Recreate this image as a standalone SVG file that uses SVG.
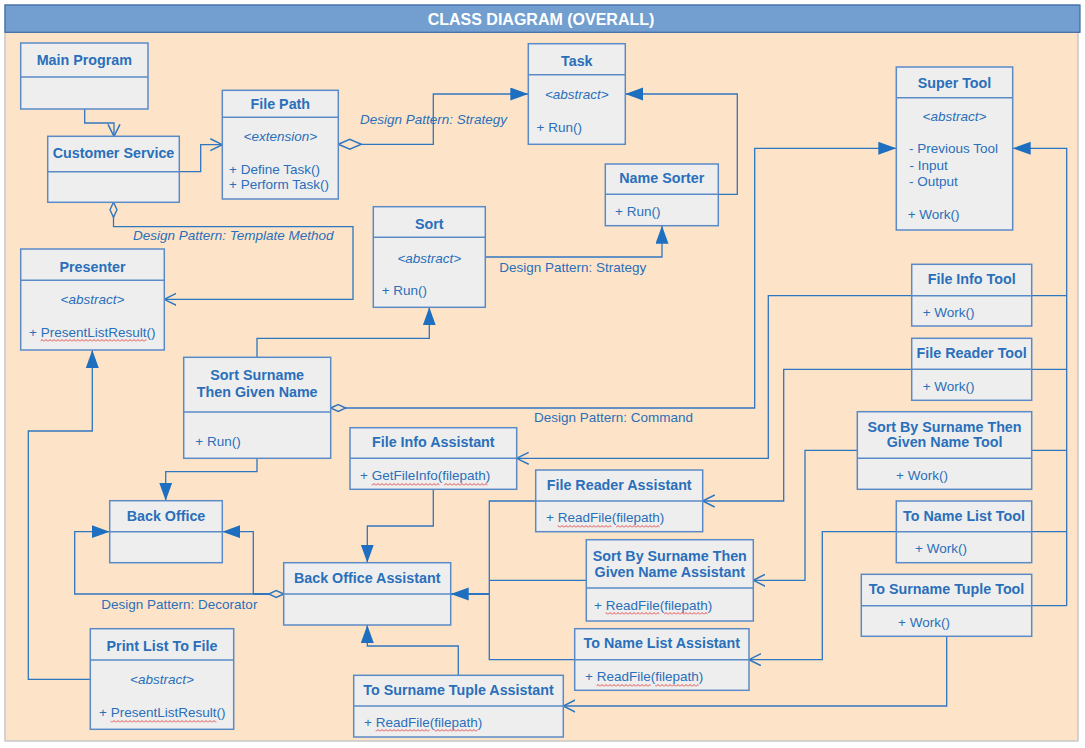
<svg xmlns="http://www.w3.org/2000/svg" width="1085" height="748" viewBox="0 0 1085 748">
<style>
.box{fill:#eeeeee;stroke:#5b8bc7;stroke-width:1.5}
.div{stroke:#5b8bc7;stroke-width:1.5;fill:none}
.t{font-family:"Liberation Sans",Arial,sans-serif;font-size:14.3px;font-weight:bold;fill:#2a6fba;text-anchor:middle}
.m{font-family:"Liberation Sans",Arial,sans-serif;font-size:13.5px;fill:#2a6fba}
.i{font-family:"Liberation Sans",Arial,sans-serif;font-size:13.5px;font-style:italic;fill:#2a6fba}
.c{text-anchor:middle}
.ln{fill:none;stroke:#2f76c0;stroke-width:1.3}
.tri{marker-end:url(#tri)}
.opn{marker-end:url(#opn)}
.wv{fill:url(#wave)}
</style>
<defs>
<marker id="tri" markerUnits="userSpaceOnUse" markerWidth="20" markerHeight="14" refX="18" refY="6.5" orient="auto"><path d="M0,0 L18,6.5 L0,13 z" fill="#1e6fbf"/></marker>
<marker id="opn" markerUnits="userSpaceOnUse" markerWidth="14" markerHeight="14" refX="12" refY="6.5" orient="auto"><path d="M0,0.5 L12,6.5 L0,12.5" fill="none" stroke="#2f76c0" stroke-width="1.5"/></marker>
<marker id="dmL" markerUnits="userSpaceOnUse" markerWidth="26" markerHeight="13" refX="0.5" refY="6" orient="auto"><path d="M0.5,6 L12,1 L23.5,6 L12,11 z" fill="#fde4c8" stroke="#2f76c0" stroke-width="1.5"/></marker>
<marker id="dmS" markerUnits="userSpaceOnUse" markerWidth="18" markerHeight="10" refX="0.5" refY="4.5" orient="auto"><path d="M0.5,4.5 L8,1 L15.5,4.5 L8,8 z" fill="#fde4c8" stroke="#2f76c0" stroke-width="1.4"/></marker>
<pattern id="wave" patternUnits="userSpaceOnUse" width="4" height="3"><path d="M0,2.5 L2,0.5 L4,2.5" fill="none" stroke="#e02020" stroke-width="0.8"/></pattern>
</defs>

<g id="frame">
<rect x="5" y="5" width="1073" height="736" fill="#fde4c8" stroke="#c8c8c8" stroke-width="1.5"/>
<rect x="5" y="5" width="1075" height="27.3" fill="#729fcf" stroke="#3d6aa8" stroke-width="1.2"/>
<text x="541" y="24.5" font-family="'Liberation Sans',Arial,sans-serif" font-size="16" font-weight="bold" fill="#ffffff" text-anchor="middle">CLASS DIAGRAM (OVERALL)</text>
</g>

<g id="connectors">
<path class="ln opn" d="M84.7,109 V123 H114 V136.3"/>
<path class="ln opn" d="M179.3,171.7 H200.7 V144.7 H222.3"/>
<path class="ln opn" style="marker-start:url(#dmS)" d="M113.5,202.3 V226.7 H353 V299.3 H164.3"/>
<path class="ln tri" style="marker-start:url(#dmL)" d="M338.3,144.3 H433.3 V94 H528.3"/>
<path class="ln tri" d="M718.3,194.3 H737.3 V94 H625.3"/>
<path class="ln tri" d="M485.3,257 H662 V225.7"/>
<path class="ln tri" d="M257,357.3 V338.3 H429.3 V307.3"/>
<path class="ln tri" style="marker-start:url(#dmS)" d="M330.7,408 H754.7 V148.3 H896.3"/>
<path class="ln tri" d="M1066.7,605.7 V148.3 H1012.7"/>
<path class="ln" d="M1031.7,605.7 H1066.7"/>
<path class="ln opn" d="M1066.7,295.7 H768.3 V458.3 H516.7"/>
<path class="ln opn" d="M1066.7,369.3 H783.7 V501 H702.7"/>
<path class="ln opn" d="M1066.7,450.3 H805 V580.3 H753.3"/>
<path class="ln opn" d="M1066.7,531.7 H822.3 V659.7 H749"/>
<path class="ln opn" d="M946.7,636.3 V706 H563.3"/>
<path class="ln tri" d="M433.3,489.3 V526 H367.3 V562.7"/>
<path class="ln tri" d="M458.3,675.3 V646 H367.3 V625"/>
<path class="ln tri" style="stroke-width:2.2" d="M489.3,594 H450.7"/>
<path class="ln" d="M535.7,501 H489.3 V659.7 H574.7 M586.3,580.3 H489.3"/>
<path class="ln tri" d="M257,458.3 V471.7 H165.7 V500.7"/>
<path class="ln tri" style="marker-start:url(#dmS)" d="M283.7,594 H74.7 V531.7 H109.7"/>
<path class="ln tri" d="M253.3,594 V531.7 H222.3"/>
<path class="ln" style="stroke-width:2" d="M253.3,594 H270"/>
<path class="ln tri" d="M90.3,679.3 H28.3 V431 H92.3 V350"/>
<text class="i" x="133" y="240">Design Pattern: Template Method</text>
<text class="i" x="360" y="124">Design Pattern: Strategy</text>
<text class="m" x="499.3" y="272">Design Pattern: Strategy</text>
<text class="m" x="534" y="422">Design Pattern: Command</text>
<text class="m" x="101.3" y="609">Design Pattern: Decorator</text>
</g>

<g id="main-program">
<rect class="box" x="20.7" y="43" width="127.3" height="66"/>
<line class="div" x1="20.7" y1="77" x2="148" y2="77"/>
<text class="t" x="84.3" y="65">Main Program</text>
</g>

<g id="customer-service">
<rect class="box" x="47.7" y="136.3" width="131.6" height="66"/>
<line class="div" x1="47.7" y1="171.7" x2="179.3" y2="171.7"/>
<text class="t" x="113.5" y="158">Customer Service</text>
</g>

<g id="file-path">
<rect class="box" x="222.3" y="90.3" width="116" height="108.7"/>
<line class="div" x1="222.3" y1="117.3" x2="338.3" y2="117.3"/>
<text class="t" x="280.3" y="109">File Path</text>
<text class="i c" x="280.3" y="141">&lt;extension&gt;</text>
<text class="m" x="229" y="174">+ Define Task()</text>
<text class="m" x="229" y="189">+ Perform Task()</text>
</g>

<g id="task">
<rect class="box" x="528.3" y="43.7" width="97" height="100.6"/>
<line class="div" x1="528.3" y1="74.7" x2="625.3" y2="74.7"/>
<text class="t" x="576.8" y="66">Task</text>
<text class="i c" x="576.8" y="99">&lt;abstract&gt;</text>
<text class="m" x="536.5" y="132">+ Run()</text>
</g>

<g id="name-sorter">
<rect class="box" x="605.3" y="164" width="113" height="61.7"/>
<line class="div" x1="605.3" y1="194.3" x2="718.3" y2="194.3"/>
<text class="t" x="661.8" y="183">Name Sorter</text>
<text class="m" x="615" y="216">+ Run()</text>
</g>

<g id="sort">
<rect class="box" x="373.3" y="206.7" width="112" height="100.6"/>
<line class="div" x1="373.3" y1="237.3" x2="485.3" y2="237.3"/>
<text class="t" x="429.3" y="229">Sort</text>
<text class="i c" x="429.3" y="263">&lt;abstract&gt;</text>
<text class="m" x="381.7" y="295">+ Run()</text>
</g>

<g id="super-tool">
<rect class="box" x="896.3" y="67" width="116.4" height="163"/>
<line class="div" x1="896.3" y1="97.7" x2="1012.7" y2="97.7"/>
<text class="t" x="954.5" y="88">Super Tool</text>
<text class="i c" x="954.5" y="121">&lt;abstract&gt;</text>
<text class="m" x="909" y="153">- Previous Tool</text>
<text class="m" x="909.5" y="170">- Input</text>
<text class="m" x="909" y="186">- Output</text>
<text class="m" x="907.7" y="219">+ Work()</text>
</g>

<g id="presenter">
<rect class="box" x="20.7" y="249" width="143.6" height="101"/>
<line class="div" x1="20.7" y1="280.3" x2="164.3" y2="280.3"/>
<text class="t" x="92.5" y="272">Presenter</text>
<text class="i c" x="92.5" y="304">&lt;abstract&gt;</text>
<text class="m" x="29" y="337">+ PresentListResult()</text>
<rect class="wv" x="40.6" y="339" width="105.8" height="3"/>
</g>

<g id="sort-surname-then-given-name">
<rect class="box" x="183.7" y="357.3" width="147" height="101"/>
<line class="div" x1="183.7" y1="412" x2="330.7" y2="412"/>
<text class="t" x="257.2" y="380">Sort Surname</text>
<text class="t" x="257.2" y="397">Then Given Name</text>
<text class="m" x="195.3" y="446">+ Run()</text>
</g>

<g id="file-info-tool">
<rect class="box" x="911.7" y="264.3" width="120" height="61.7"/>
<line class="div" x1="911.7" y1="295.7" x2="1031.7" y2="295.7"/>
<text class="t" x="971.7" y="284">File Info Tool</text>
<text class="m" x="922.7" y="317">+ Work()</text>
</g>

<g id="file-reader-tool">
<rect class="box" x="911.7" y="338.3" width="120" height="62"/>
<line class="div" x1="911.7" y1="369.3" x2="1031.7" y2="369.3"/>
<text class="t" x="971.7" y="358">File Reader Tool</text>
<text class="m" x="922.7" y="391">+ Work()</text>
</g>

<g id="sort-by-surname-tool">
<rect class="box" x="857.3" y="411.7" width="174.4" height="77.6"/>
<line class="div" x1="857.3" y1="458.3" x2="1031.7" y2="458.3"/>
<text class="t" x="944.5" y="432">Sort By Surname Then</text>
<text class="t" x="944.5" y="447">Given Name Tool</text>
<text class="m" x="896" y="480">+ Work()</text>
</g>

<g id="to-name-list-tool">
<rect class="box" x="896.3" y="501" width="135.4" height="61.7"/>
<line class="div" x1="896.3" y1="531.7" x2="1031.7" y2="531.7"/>
<text class="t" x="964" y="521">To Name List Tool</text>
<text class="m" x="915" y="553">+ Work()</text>
</g>

<g id="to-surname-tuple-tool">
<rect class="box" x="861.3" y="574.3" width="170.4" height="62"/>
<line class="div" x1="861.3" y1="605.7" x2="1031.7" y2="605.7"/>
<text class="t" x="946.5" y="594">To Surname Tuple Tool</text>
<text class="m" x="898" y="627">+ Work()</text>
</g>

<g id="file-info-assistant">
<rect class="box" x="350" y="427.7" width="166.7" height="61.6"/>
<line class="div" x1="350" y1="458.3" x2="516.7" y2="458.3"/>
<text class="t" x="433.3" y="447">File Info Assistant</text>
<text class="m" x="360" y="480">+ GetFileInfo(filepath)</text>
<rect class="wv" x="371.6" y="483" width="68" height="3"/>
<rect class="wv" x="444.1" y="483" width="43.5" height="3"/>
</g>

<g id="file-reader-assistant">
<rect class="box" x="535.7" y="470" width="167" height="61.7"/>
<line class="div" x1="535.7" y1="501" x2="702.7" y2="501"/>
<text class="t" x="619.2" y="490">File Reader Assistant</text>
<text class="m" x="546" y="522">+ ReadFile(filepath)</text>
<rect class="wv" x="557.6" y="525" width="54" height="3"/>
<rect class="wv" x="616.1" y="525" width="43.5" height="3"/>
</g>

<g id="sort-by-surname-assistant">
<rect class="box" x="586.3" y="539.7" width="167" height="81.3"/>
<line class="div" x1="586.3" y1="588" x2="753.3" y2="588"/>
<text class="t" x="669.8" y="561">Sort By Surname Then</text>
<text class="t" x="669.8" y="577">Given Name Assistant</text>
<text class="m" x="594" y="610">+ ReadFile(filepath)</text>
<rect class="wv" x="605.6" y="612" width="54" height="3"/>
<rect class="wv" x="664.1" y="612" width="43.5" height="3"/>
</g>

<g id="to-name-list-assistant">
<rect class="box" x="574.7" y="628.7" width="174.3" height="61.6"/>
<line class="div" x1="574.7" y1="659.7" x2="749" y2="659.7"/>
<text class="t" x="661.8" y="648">To Name List Assistant</text>
<text class="m" x="585" y="681">+ ReadFile(filepath)</text>
<rect class="wv" x="596.6" y="684" width="54" height="3"/>
<rect class="wv" x="655.1" y="684" width="43.5" height="3"/>
</g>

<g id="to-surname-tuple-assistant">
<rect class="box" x="353.7" y="675.3" width="209.6" height="61.7"/>
<line class="div" x1="353.7" y1="706" x2="563.3" y2="706"/>
<text class="t" x="458.5" y="695">To Surname Tuple Assistant</text>
<text class="m" x="364" y="727">+ ReadFile(filepath)</text>
<rect class="wv" x="375.6" y="729" width="54" height="3"/>
<rect class="wv" x="434.1" y="729" width="43.5" height="3"/>
</g>

<g id="back-office">
<rect class="box" x="109.7" y="500.7" width="112.6" height="62"/>
<line class="div" x1="109.7" y1="531.7" x2="222.3" y2="531.7"/>
<text class="t" x="166" y="521">Back Office</text>
</g>

<g id="back-office-assistant">
<rect class="box" x="283.7" y="562.7" width="167" height="62.3"/>
<line class="div" x1="283.7" y1="594" x2="450.7" y2="594"/>
<text class="t" x="367.2" y="583">Back Office Assistant</text>
</g>

<g id="print-list-to-file">
<rect class="box" x="90.3" y="628.7" width="143.4" height="100.6"/>
<line class="div" x1="90.3" y1="660" x2="233.7" y2="660"/>
<text class="t" x="162" y="651">Print List To File</text>
<text class="i c" x="162" y="684">&lt;abstract&gt;</text>
<text class="m" x="99" y="717">+ PresentListResult()</text>
<rect class="wv" x="110.6" y="720" width="105.8" height="3"/>
</g>
</svg>
